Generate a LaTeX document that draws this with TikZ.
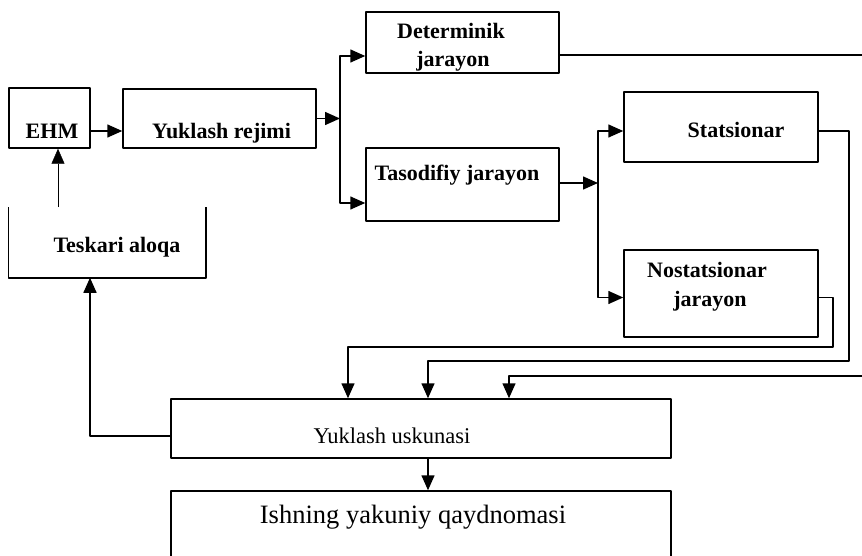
\documentclass[tikz,border=0pt]{standalone}
\usepackage{fontspec}
\setmainfont{Liberation Serif}
\usetikzlibrary{arrows.meta}
\begin{document}
\begin{tikzpicture}[x=1pt,y=-1pt,line join=round,line width=1.5pt,>={Triangle[length=15pt,width=13pt]}]
	\tikzset{box/.style={draw,line width=1.5pt,inner sep=0pt},
		lbl/.style={anchor=base,inner sep=0pt,font=\fontsize{22}{28}\selectfont\bfseries},
		lblr/.style={anchor=base,inner sep=0pt,font=\fontsize{22.5}{28}\selectfont}}
	\useasboundingbox (0,0) rectangle (862,556);
	\clip (0,0) rectangle (862,556);
	% bloklar
	\node[box,minimum width=81pt,minimum height=60pt] (ehm) at (49.5,118) {};
	\node[box,minimum width=193pt,minimum height=59pt] (rej) at (219.5,118.5) {};
	\node[box,minimum width=193pt,minimum height=61pt] (det) at (462.5,42.5) {};
	\node[box,minimum width=193pt,minimum height=73pt] (taso) at (462.5,184.5) {};
	\node[box,minimum width=194pt,minimum height=70pt] (stat) at (721,127) {};
	\node[box,minimum width=194pt,minimum height=87pt] (nost) at (721,293.5) {};
	\node[inner sep=0pt,minimum width=196pt,minimum height=69pt] (tesk) at (107,242.5) {};
	\draw (tesk.north west)--(tesk.south west)--(tesk.south east)--(tesk.north east);
	\node[box,minimum width=500pt,minimum height=59pt] (usk) at (421,428.5) {};
	\node[box,minimum width=500pt,minimum height=89pt] (ish) at (421,535.5) {};
	% yozuvlar
	\node[lbl] (tehm) at (52,139) {EHM};
	\node[lbl] (trej) at (221.5,139) {Yuklash rejimi};
	\node[lbl] (tdet1) at (451,39) {Determinik};
	\node[lbl] (tdet2) at (453,67) {jarayon};
	\node[lbl] (ttaso) at (457,181) {Tasodifiy jarayon};
	\node[lbl] (tstat) at (736,138) {Statsionar};
	\node[lbl] (tnost1) at (707,277) {Nostatsionar};
	\node[lbl] (tnost2) at (710,306) {jarayon};
	\node[lbl] (ttesk) at (117,252) {Teskari aloqa};
	\node[lblr] (tusk) at (392,443) {Yuklash uskunasi};
	\node[lblr,font=\fontsize{26.5}{30}\selectfont] (tish) at (413,523) {Ishning yakuniy qaydnomasi};
	% tarmoqlanish nuqtalari
	\coordinate (b1) at (340,118.5);
	\coordinate (b2) at (598,183);
	\draw[->] ([yshift=-13pt]ehm.east) -- ([yshift=-13pt]ehm.east -| rej.west);
	\draw[->] (rej.east) -- (b1);
	\draw[->] (b1) |- ([yshift=-13.5pt]det.west);
	\draw[->] (b1) |- ([yshift=-18.5pt]taso.west);
	\draw[->] (taso.east |- b2) -- (b2);
	\draw[->] (b2) |- ([yshift=-4pt]stat.west);
	\draw[->] (b2) |- ([yshift=-4pt]nost.west);
	% qaytish chiziqlari
	\draw[->] ([yshift=-12.5pt]det.east) -| (875,376) -| ([xshift=88pt]usk.north);
	\draw[->] ([yshift=-4pt]stat.east) -| (849,361) -| ([xshift=7pt]usk.north);
	\draw[->] ([yshift=-4pt]nost.east) -| (833,347) -| ([xshift=-73pt]usk.north);
	\draw[->] ([xshift=7pt]usk.south) -- ([xshift=7pt]ish.north);
	\draw[->] ([yshift=-7.5pt]usk.west) -| ([xshift=-17pt]tesk.south);
	\draw[->,thin] ([xshift=-49pt]tesk.north) -- ([xshift=-49pt]tesk.north |- ehm.south);
\end{tikzpicture}
\end{document}
